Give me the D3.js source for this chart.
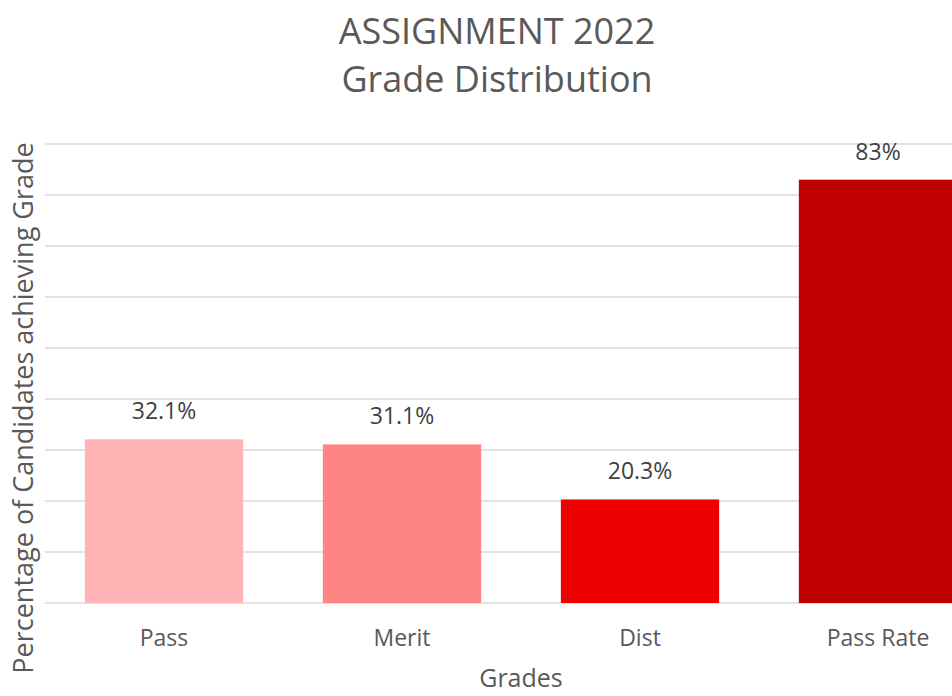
<!DOCTYPE html>
<html>
<head>
<meta charset="utf-8">
<script src="https://cdn.jsdelivr.net/npm/d3@7"></script>
<style>
  html, body { margin: 0; padding: 0; background: #fff; }
  svg { display: block; font-family: "Open Sans", sans-serif; }
</style>
</head>
<body>
<div id="chart"></div>
<script>
// chart data
const categories = ["Pass", "Merit", "Dist", "Pass Rate"];
const values = [32.1, 31.1, 20.3, 83];
const valueLabels = ["32.1%", "31.1%", "20.3%", "83%"];
const barColours = ["#FFB3B4", "#FF8585", "#EE0000", "#C00000"];
const gridTicks = [0, 10, 20, 30, 40, 50, 60, 70, 80, 90];
const titleLines = ["ASSIGNMENT 2022", "Grade Distribution"];

const width = 952, height = 696;
const textColour = "#595959";

const svg = d3.select("#chart").append("svg")
	.attr("width", width)
	.attr("height", height);

// band runs past the right edge, the last bar is cut off like in the original
let x = d3.scaleBand()
	.domain(categories)
	.range([45, 997])
	.paddingInner(0.335)
	.paddingOuter(0.1675);

let y = d3.scaleLinear()
	.domain([0, 90])
	.range([603, 144]);

// gridlines
svg.append("g")
	.attr("class", "grid")
	.selectAll("line")
	.data(gridTicks)
	.enter().append("line")
	.attr("x1", 45)
	.attr("x2", width)
	.attr("y1", d => y(d))
	.attr("y2", d => y(d))
	.style("stroke", "#D9D9D9")
	.style("stroke-width", 1.5);

// bars
svg.append("g")
	.selectAll("rect")
	.data(categories)
	.enter().append("rect")
	.attr("x", d => x(d))
	.attr("width", x.bandwidth())
	.attr("y", (d, i) => y(values[i]))
	.attr("height", (d, i) => y(0) - y(values[i]))
	.style("fill", (d, i) => barColours[i]);

// value labels
svg.append("g")
	.selectAll("text")
	.data(categories)
	.enter().append("text")
	.attr("x", d => x(d) + x.bandwidth() / 2)
	.attr("y", (d, i) => y(values[i]) - 20)
	.attr("text-anchor", "middle")
	.style("font-size", "23px")
	.style("fill", "#404040")
	.text((d, i) => valueLabels[i]);

// x axis, only the labels are shown
let xAxis = d3.axisBottom(x).tickSize(0).tickPadding(0);
let gx = svg.append("g")
	.attr("transform", "translate(0,646)")
	.call(xAxis);
gx.select(".domain").remove();
gx.selectAll("text")
	.attr("dy", 0)
	.attr("y", 0)
	.style("font-family", "Open Sans, sans-serif")
	.style("font-size", "23px")
	.style("fill", textColour);

// titles
svg.append("g")
	.selectAll("text")
	.data(titleLines)
	.enter().append("text")
	.attr("x", 497)
	.attr("y", (d, i) => 44 + i * 48)
	.attr("text-anchor", "middle")
	.style("font-size", "36px")
	.style("fill", textColour)
	.text(d => d);

svg.append("text")
	.attr("x", 521)
	.attr("y", 687)
	.attr("text-anchor", "middle")
	.style("font-size", "25px")
	.style("fill", textColour)
	.text("Grades");

svg.append("text")
	.attr("transform", "translate(33,408) rotate(-90)")
	.attr("text-anchor", "middle")
	.style("font-size", "27px")
	.style("fill", textColour)
	.text("Percentage of Candidates achieving Grade");
</script>
</body>
</html>
